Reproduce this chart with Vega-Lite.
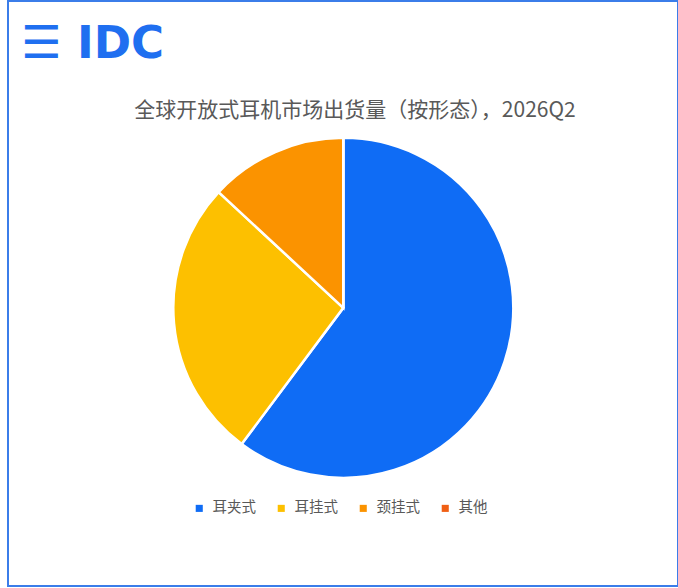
{
  "$schema": "https://vega.github.io/schema/vega-lite/v6.json",
  "background": "white",
  "padding": {"left": 7, "top": 0, "right": 1, "bottom": 1},
  "title": {
    "text": "☰ IDC",
    "anchor": "start",
    "frame": "group",
    "offset": -67,
    "dx": 13,
    "font": "DejaVu Sans",
    "fontSize": 45,
    "fontWeight": "bold",
    "color": "#1f6ff0"
  },
  "vconcat": [
    {
      "width": 670,
      "height": 585,
      "view": {"stroke": "#3b7de9", "strokeWidth": 2, "fill": "white"},
      "title": {
        "text": "全球开放式耳机市场出货量（按形态），2026Q2",
        "anchor": "middle",
        "frame": "group",
        "offset": -120,
        "dx": 12,
        "font": "Noto Sans CJK SC",
        "fontSize": 21,
        "fontWeight": "normal",
        "color": "#595959"
      },
      "data": {
        "values": [
          {"form": "耳夹式", "share": 60.2, "rank": 1},
          {"form": "耳挂式", "share": 26.7, "rank": 2},
          {"form": "颈挂式", "share": 13.1, "rank": 3},
          {"form": "其他", "share": 0.0, "rank": 4}
        ]
      },
      "mark": {
        "type": "arc",
        "outerRadius": 170,
        "stroke": "white",
        "strokeWidth": 2.5,
        "xOffset": 0.3,
        "yOffset": 14.3
      },
      "encoding": {
        "theta": {"field": "share", "type": "quantitative", "stack": true},
        "order": {"field": "rank", "type": "quantitative"},
        "color": {
          "field": "form",
          "type": "nominal",
          "scale": {
            "domain": ["耳夹式", "耳挂式", "颈挂式", "其他"],
            "range": ["#0f6cf5", "#fdc000", "#fb9300", "#f05f14"]
          },
          "legend": {
            "title": null,
            "orient": "none",
            "legendX": 184,
            "legendY": 500,
            "direction": "horizontal",
            "symbolType": "square",
            "symbolSize": 50,
            "symbolStrokeWidth": 0,
            "labelFont": "Noto Sans CJK SC",
            "labelFontSize": 14.5,
            "labelColor": "#595959",
            "labelOffset": 6,
            "columnPadding": 18
          }
        }
      }
    }
  ]
}
